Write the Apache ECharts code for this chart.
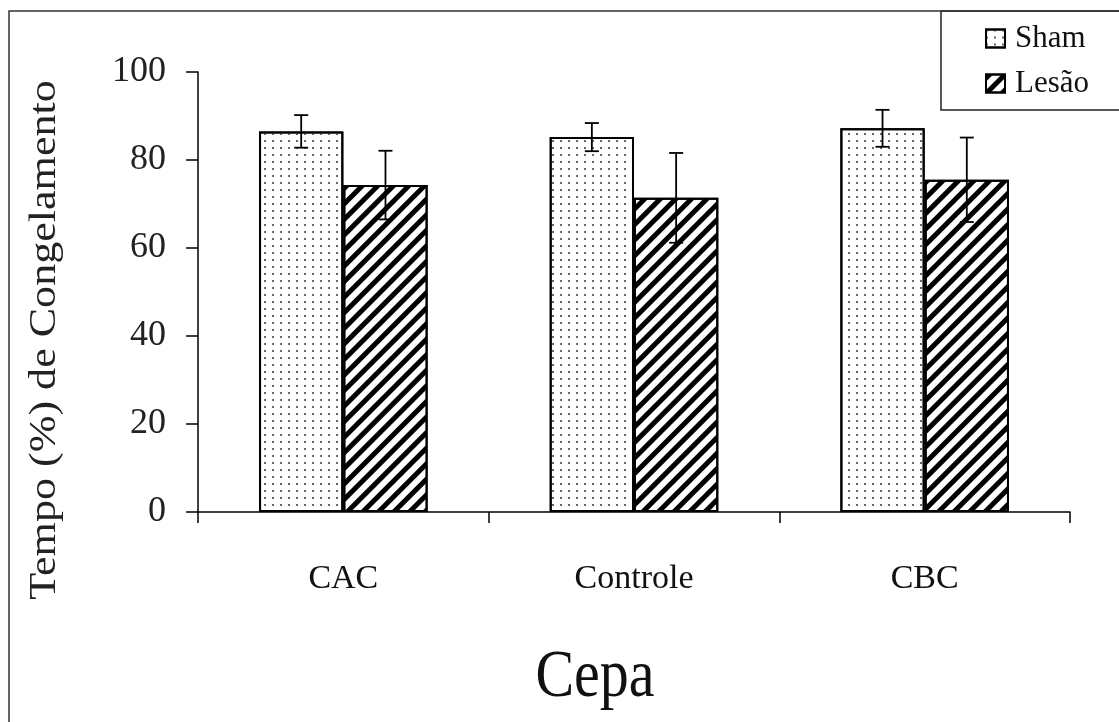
<!DOCTYPE html>
<html>
<head>
<meta charset="utf-8">
<script src="https://cdn.jsdelivr.net/npm/echarts@6/dist/echarts.min.js"></script>
<style>html,body{margin:0;padding:0;background:#fff;}#c{width:1119px;height:722px;}</style>
</head>
<body>
<div id="c"></div>
<script>
var categories = ['CAC', 'Controle', 'CBC'];
var shamValues = [86.5, 85.2, 87.2];
var shamErrors = [3.7, 3.2, 4.2];
var lesaoValues = [74.3, 71.4, 75.5];
var lesaoErrors = [7.8, 10.2, 9.6];
var yTicks = [0, 20, 40, 60, 80, 100];

var FONT = '"Liberation Serif", "Times New Roman", serif';
var chart = echarts.init(document.getElementById('c'));

function errData(vals, errs) {
  return vals.map(function (v, i) { return [i, v - errs[i], v + errs[i]]; });
}
function errRender(offsetSign) {
  return function (params, api) {
    var i = api.value(0);
    var lo = api.coord([i, api.value(1)]);
    var hi = api.coord([i, api.value(2)]);
    var cw = api.size([1, 0])[0];
    var x = lo[0] + offsetSign * cw * 0.145;
    var cap = 7;
    var st = { stroke: '#000', lineWidth: 1.8 };
    return {
      type: 'group',
      children: [
        { type: 'line', shape: { x1: x, y1: lo[1], x2: x, y2: hi[1] }, style: st },
        { type: 'line', shape: { x1: x - cap, y1: hi[1], x2: x + cap, y2: hi[1] }, style: st },
        { type: 'line', shape: { x1: x - cap, y1: lo[1], x2: x + cap, y2: lo[1] }, style: st }
      ]
    };
  };
}

var dotDecal = {
  symbol: 'rect', symbolSize: 1, color: '#666',
  dashArrayX: [2, 6], dashArrayY: [2, 4.5], rotation: 0
};
var stripeDecal = {
  symbol: 'rect', symbolSize: 1, color: '#000',
  dashArrayX: [1, 0], dashArrayY: [5, 5.5], rotation: -Math.PI / 4
};

var option = {
  animation: false,
  backgroundColor: '#fff',
  textStyle: { fontFamily: FONT },
  legend: {
    orient: 'vertical', left: 941, top: 11,
    padding: [12, 60, 11, 44],
    itemGap: 14, itemWidth: 19, itemHeight: 18,
    borderColor: '#222', borderWidth: 1.5,
    icon: 'rect',
    textStyle: { fontFamily: FONT, fontSize: 31, color: '#111', padding: [0, 0, 0, 5] },
    data: ['Sham', 'Lesão']
  },
  graphic: [
    { type: 'rect', shape: { x: 9, y: 11, width: 1300, height: 900 }, style: { fill: 'none', stroke: '#333', lineWidth: 1.5 }, z: 100, silent: true },
    { type: 'text', x: 45, y: 340, rotation: Math.PI / 2, scaleX: 1.16,
      style: { text: 'Tempo (%) de Congelamento', font: '38px ' + FONT, fill: '#222', textAlign: 'center', textVerticalAlign: 'middle' } },
    { type: 'text', x: 595, y: 678, scaleY: 1.17,
      style: { text: 'Cepa', font: '58px ' + FONT, fill: '#111', textAlign: 'center', textVerticalAlign: 'middle' } }
  ],
  grid: { left: 198, right: 49, top: 72, bottom: 210, containLabel: false },
  xAxis: {
    type: 'category', data: categories,
    axisLine: { lineStyle: { color: '#000', width: 1.5 } },
    axisTick: { show: true, length: 11, lineStyle: { color: '#000', width: 1.5 } },
    axisLabel: { margin: 50, fontFamily: FONT, fontSize: 34, color: '#111' }
  },
  yAxis: {
    type: 'value', min: 0, max: 100, interval: 20,
    axisLine: { show: true, lineStyle: { color: '#000', width: 1.5 } },
    axisTick: { show: true, length: 12, lineStyle: { color: '#000', width: 1.5 } },
    splitLine: { show: false },
    axisLabel: { margin: 32, fontFamily: FONT, fontSize: 36, color: '#222',
      formatter: function (v) { return yTicks.indexOf(v) >= 0 ? String(v) : ''; } }
  },
  series: [
    { name: 'Sham', type: 'bar', data: shamValues, barWidth: '29%', barGap: '0%',
      itemStyle: { color: '#fff', borderColor: '#000', borderWidth: 2, decal: dotDecal } },
    { name: 'Lesão', type: 'bar', data: lesaoValues, barWidth: '29%', barGap: '0%',
      itemStyle: { color: '#fff', borderColor: '#000', borderWidth: 2, decal: stripeDecal } },
    { name: 'errSham', type: 'custom', data: errData(shamValues, shamErrors), renderItem: errRender(-1), z: 10,
      encode: { x: 0, y: [1, 2] } },
    { name: 'errLesao', type: 'custom', data: errData(lesaoValues, lesaoErrors), renderItem: errRender(1), z: 10,
      encode: { x: 0, y: [1, 2] } }
  ]
};
chart.setOption(option);
</script>
</body>
</html>
